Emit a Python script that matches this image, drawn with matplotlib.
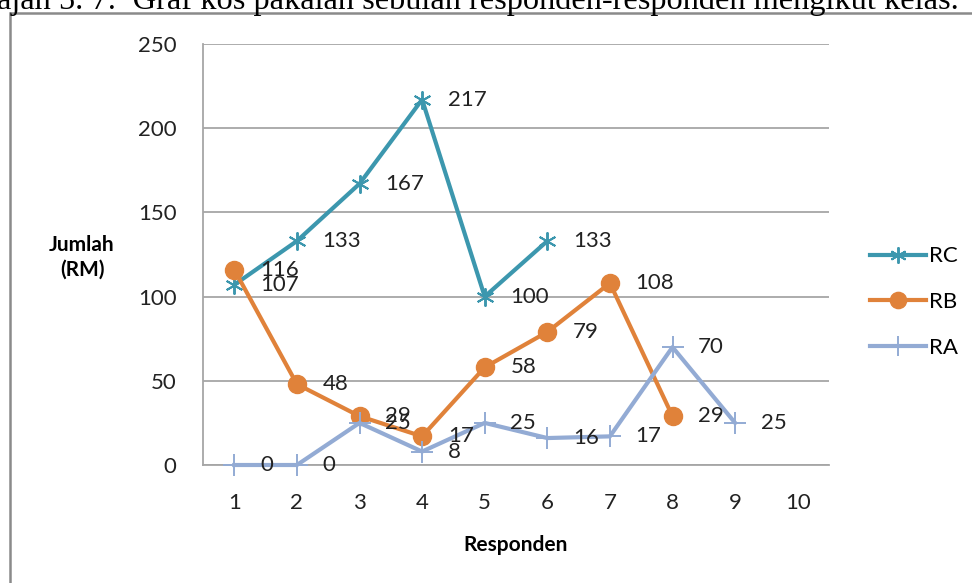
import matplotlib
matplotlib.use("Agg")
import matplotlib.pyplot as plt
from matplotlib.patches import Rectangle

plt.rcParams['font.family'] = ['Lato', 'DejaVu Sans']

categories = [1, 2, 3, 4, 5, 6, 7, 8, 9, 10]
rc = [107, 133, 167, 217, 100, 133]
rb = [116, 48, 29, 17, 58, 79, 108, 29]
ra = [0, 0, 25, 8, 25, 16, 17, 70, 25]
yticks = [0, 50, 100, 150, 200, 250]

c_rc = '#3C97AE'
c_rb = '#E0823A'
c_ra = '#93ABD4'

W, H = 972, 583
fig = plt.figure(figsize=(W/100, H/100), dpi=100)

# chart frame
fig.patches.append(Rectangle((10/W, -0.1), 1.2, 1 - 13/H + 0.1, transform=fig.transFigure,
                             fill=False, edgecolor='#8A8A8A', linewidth=1.8))
# caption (cut off at top)
fig.text(-3/W, 1 - 9/H, 'ajah 5. 7:  Graf kos pakaian sebulan responden-responden mengikut kelas.',
         family='Liberation Serif', fontsize=23.3, va='baseline', ha='left', color='black')

ax = fig.add_axes([203/W, 1 - 465/H, (829-203)/W, (465-44)/H])
ax.set_xlim(0.5, 10.5)
ax.set_ylim(0, 250)
ax.set_yticks(yticks)
ax.set_xticks(categories)
ax.set_xticklabels([str(c) for c in categories])
ax.grid(axis='y', color='#A6A6A6', linewidth=1.3)
ax.set_axisbelow(True)
for s in ['top', 'right']:
    ax.spines[s].set_visible(False)
for s in ['left', 'bottom']:
    ax.spines[s].set_color('#A6A6A6')
    ax.spines[s].set_linewidth(1.3)
ax.tick_params(length=0, labelsize=16, colors='#222222')
ax.tick_params(axis='y', pad=19)
ax.tick_params(axis='x', pad=20)

x_rc = categories[:len(rc)]
x_rb = categories[:len(rb)]
x_ra = categories[:len(ra)]

ax.plot(x_rc, rc, color=c_rc, linewidth=3, marker=(6, 2, 0), markersize=13,
        markeredgewidth=1.4, markeredgecolor=c_rc, label='RC', zorder=3, clip_on=False)
ax.plot(x_rb, rb, color=c_rb, linewidth=3, marker='o', markersize=13,
        markeredgecolor=c_rb, label='RB', zorder=3, clip_on=False)
ax.plot(x_ra, ra, color=c_ra, linewidth=3, marker='+', markersize=16,
        markeredgewidth=1.4, label='RA', zorder=3, clip_on=False)

for xs, ys in [(x_rc, rc), (x_rb, rb), (x_ra, ra)]:
    for x, y in zip(xs, ys):
        ax.annotate(str(y), (x, y), xytext=(18.5, 0), textcoords='offset points',
                    ha='left', va='center', fontsize=16, color='#222222', zorder=5)

ax.set_xlabel('Responden', fontsize=15, fontweight='bold', labelpad=16)
fig.text(82/W, 1 - 257/H, 'Jumlah\n(RM)', ha='center', va='center', fontsize=15,
         fontweight='bold', linespacing=1.3)

leg = fig.legend(handles=ax.get_lines(), labels=['RC', 'RB', 'RA'],
                 loc='center left', bbox_to_anchor=(850/W, 1 - 302/H), frameon=False,
                 fontsize=16, handlelength=2.5, labelspacing=1.15, handletextpad=0.15,
                 markerscale=0.9)

fig.savefig('out.png', dpi=100)
